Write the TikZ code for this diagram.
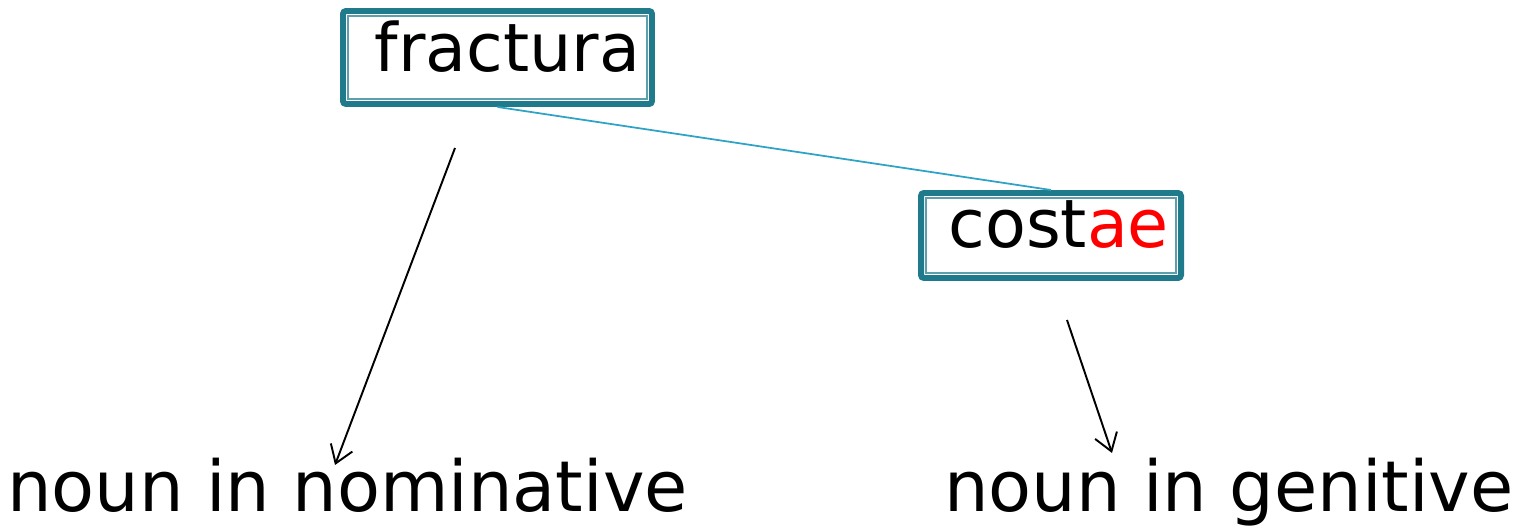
\documentclass[tikz,border=0pt]{standalone}
\usepackage{fontspec}
\setmainfont{DejaVu Sans}
\usetikzlibrary{arrows.meta}
\definecolor{boxteal}{HTML}{1F7A8C}
\definecolor{innerteal}{HTML}{5E9FAE}
\definecolor{linkblue}{HTML}{2FA3C6}
\begin{document}
\begin{tikzpicture}[
	wordbox/.style={draw=boxteal,line width=3.4pt,rounded corners=0.06cm,inner xsep=0.24cm,inner ysep=0pt,align=right,
		path picture={\draw[innerteal,line width=0.9pt,sharp corners] ([shift={(0.1,-0.1)}]path picture bounding box.north west) rectangle ([shift={(-0.1,0.1)}]path picture bounding box.south east);}},
	caselabel/.style={anchor=base,inner sep=0pt},
	arr/.style={-{Straight Barb[length=0.34cm,width=0.46cm]},line width=1.1pt}
	]
	\newcommand{\mywordfont}[1]{
		\fontsize{38}{40}\selectfont{#1}
	}\newcommand{\mycasefont}[1]{
		\fontsize{40}{42}\selectfont{#1}
	}%Frame of the picture
	\useasboundingbox (0,0) rectangle (30.34,-10.52);
	%The words
	\node [wordbox,text width=5.7cm,text height=1.22cm,text depth=0.64cm] (fracbox) at (9.95,-1.15) {\mywordfont{fractura}};
	\node [wordbox,text width=4.72cm,text height=1.1cm,text depth=0.6cm] (costbox) at (21.02,-4.71) {\mywordfont{cost\textcolor{red}{ae}}};
	%Link between the words
	\draw [linkblue,line width=1pt] (fracbox.south) -- (costbox.north);
	%The cases
	\node [caselabel] (nomlab) at (6.95,-10.24) {\mycasefont{noun in nominative}};
	\node [caselabel] (genlab) at (24.58,-10.24) {\mycasefont{noun in genitive}};
	%Arrows from the words down to the cases
	\coordinate (fracfoot) at (9.1,-2.96);
	\coordinate (costfoot) at (21.34,-6.4);
	\draw [arr] (fracfoot) -- ([shift={(-0.25,0.94)}]nomlab.base);
	\draw [arr] (costfoot) -- ([shift={(-2.34,1.18)}]genlab.base);
\end{tikzpicture}
\end{document}
